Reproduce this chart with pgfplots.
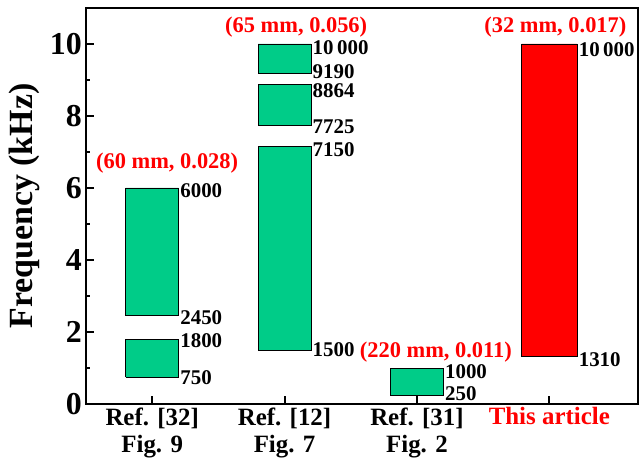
\documentclass[border=0pt]{standalone}
\usepackage{pgfplots}
\pgfplotsset{compat=1.18}
\usepackage{fontspec}
\setmainfont{Liberation Serif}
\definecolor{bargreen}{RGB}{0,204,136}
\begin{document}
\begin{tikzpicture}
\begin{axis}[
  scale only axis, width=552bp, height=396bp,
  xmin=-0.5, xmax=3.67, ymin=0, ymax=11,
  axis line style={line width=2.4pt},
  tick align=inside, tick pos=left,
  major tick length=8bp, minor tick length=4.5bp,
  tick style={line width=2pt, black},
  ytick={0,2,4,6,8,10}, minor ytick={1,3,5,7,9},
  xtick={0,1,2,3},
  xticklabels={{Ref. [32]\\Fig. 9},{Ref. [12]\\Fig. 7},{Ref. [31]\\Fig. 2},{\textcolor{red}{This article}}},
  xticklabel style={align=center, font=\fontsize{25}{27.5}\selectfont\bfseries},
  yticklabel style={font=\fontsize{32}{32}\selectfont\bfseries, inner sep=4bp},
  /pgf/number format/assume math mode=true,
  ylabel={Frequency (kHz)},
  ylabel style={font=\fontsize{34}{34}\selectfont\bfseries, at={(axis description cs:-0.111,0.5)}, anchor=center},
  clip=false,
]
% Ref. [32]
\addplot[fill=bargreen, draw=black, line width=0.9pt] coordinates {(-0.2,2.45) (0.2,2.45) (0.2,6) (-0.2,6) (-0.2,2.45)};
\addplot[fill=bargreen, draw=black, line width=0.9pt] coordinates {(-0.2,0.75) (0.2,0.75) (0.2,1.8) (-0.2,1.8) (-0.2,0.75)};
% Ref. [12]
\addplot[fill=bargreen, draw=black, line width=0.9pt] coordinates {(0.8,9.19) (1.2,9.19) (1.2,10) (0.8,10) (0.8,9.19)};
\addplot[fill=bargreen, draw=black, line width=0.9pt] coordinates {(0.8,7.725) (1.2,7.725) (1.2,8.864) (0.8,8.864) (0.8,7.725)};
\addplot[fill=bargreen, draw=black, line width=0.9pt] coordinates {(0.8,1.5) (1.2,1.5) (1.2,7.15) (0.8,7.15) (0.8,1.5)};
% Ref. [31]
\addplot[fill=bargreen, draw=black, line width=0.9pt] coordinates {(1.8,0.25) (2.2,0.25) (2.2,1.0) (1.8,1.0) (1.8,0.25)};
% This article
\addplot[fill=red, draw=black, line width=0.9pt] coordinates {(2.79,1.31) (3.21,1.31) (3.21,10) (2.79,10) (2.79,1.31)};

\tikzset{vl/.style={anchor=west, inner xsep=1.5bp, inner ysep=0pt, font=\fontsize{21}{21}\selectfont\bfseries}}
\node[vl] at (axis cs:0.2,5.94) {6000};
\node[vl] at (axis cs:0.2,2.39) {2450};
\node[vl] at (axis cs:0.2,1.76) {1800};
\node[vl] at (axis cs:0.2,0.72) {750};
\node[vl] at (axis cs:1.2,9.89) {10\,000};
\node[vl] at (axis cs:1.2,9.24) {9190};
\node[vl] at (axis cs:1.2,8.70) {8864};
\node[vl] at (axis cs:1.2,7.70) {7725};
\node[vl] at (axis cs:1.2,7.06) {7150};
\node[vl] at (axis cs:1.2,1.50) {1500};
\node[vl] at (axis cs:2.2,0.89) {1000};
\node[vl] at (axis cs:2.2,0.28) {250};
\node[vl] at (axis cs:3.21,9.83) {10\,000};
\node[vl] at (axis cs:3.21,1.22) {1310};

\tikzset{rl/.style={anchor=center, inner sep=0pt, text=red, font=\fontsize{22.5}{22.5}\selectfont\bfseries}}
\node[rl] at (axis cs:0.113,6.69) {(60 mm, 0.028)};
\node[rl] at (axis cs:1.088,10.47) {(65 mm, 0.056)};
\node[rl] at (axis cs:2.143,1.44) {(220 mm, 0.011)};
\node[rl] at (axis cs:3.046,10.47) {(32 mm, 0.017)};
\end{axis}
\pgfresetboundingbox
\path ([shift={(-86bp,-66bp)}]current axis.south west) rectangle ([shift={(2bp,8bp)}]current axis.north east);
\end{tikzpicture}
\end{document}
